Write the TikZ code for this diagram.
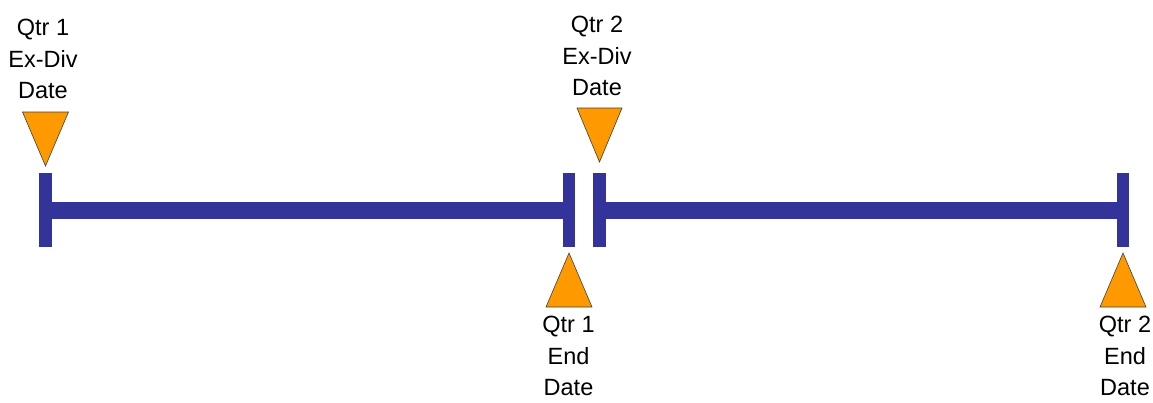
\documentclass[tikz,border=0pt]{standalone}
\usepackage{fontspec}
\setmainfont{Liberation Sans}
\definecolor{barblue}{HTML}{333399}
\definecolor{markorange}{HTML}{FF9900}
\tikzset{
  bar/.style={draw=barblue, line width=17pt},
  tickmark/.style={draw=barblue, line width=12.5pt},
  marker/.style={fill=markorange, draw=black!75, line width=0.6pt, line join=miter},
  lbl/.style={font=\fontsize{23.5}{31.5}\selectfont, align=center, inner sep=0pt, anchor=north, text=black}
}
\begin{document}
\begin{tikzpicture}[x=1pt,y=-1pt]
\fill[white] (0,0) rectangle (1153,402);
\useasboundingbox (0,0) rectangle (1153,402);

% tick positions on the timeline
\coordinate (t1) at (45.5,210);
\coordinate (t2) at (569,210);
\coordinate (t3) at (599.5,210);
\coordinate (t4) at (1123,210);

% timeline bars
\draw[bar] (t1) -- (t2);
\draw[bar] (t3) -- (t4);

% end ticks
\foreach \t in {t1,t2,t3,t4}
  \draw[tickmark] ([yshift=-37]\t) -- ([yshift=37]\t);

% downward markers (ex-dividend dates)
\draw[marker] (22.5,112) -- (68.5,112) -- (45.5,166) -- cycle;
\draw[marker] (577,108) -- (622,108) -- (599.5,162) -- cycle;

% upward markers (quarter end dates)
\draw[marker] (546,307) -- (592,307) -- (569,253) -- cycle;
\draw[marker] (1100,307) -- (1146,307) -- (1123,253) -- cycle;

% labels
\node[lbl] (q1ex) at (43,19) {Qtr 1\\Ex-Div\\Date};
\node[lbl] (q2ex) at (597,16) {Qtr 2\\Ex-Div\\Date};
\node[lbl] (q1end) at (568.5,316) {Qtr 1\\End\\Date};
\node[lbl] (q2end) at (1125,316) {Qtr 2\\End\\Date};
\end{tikzpicture}
\end{document}
